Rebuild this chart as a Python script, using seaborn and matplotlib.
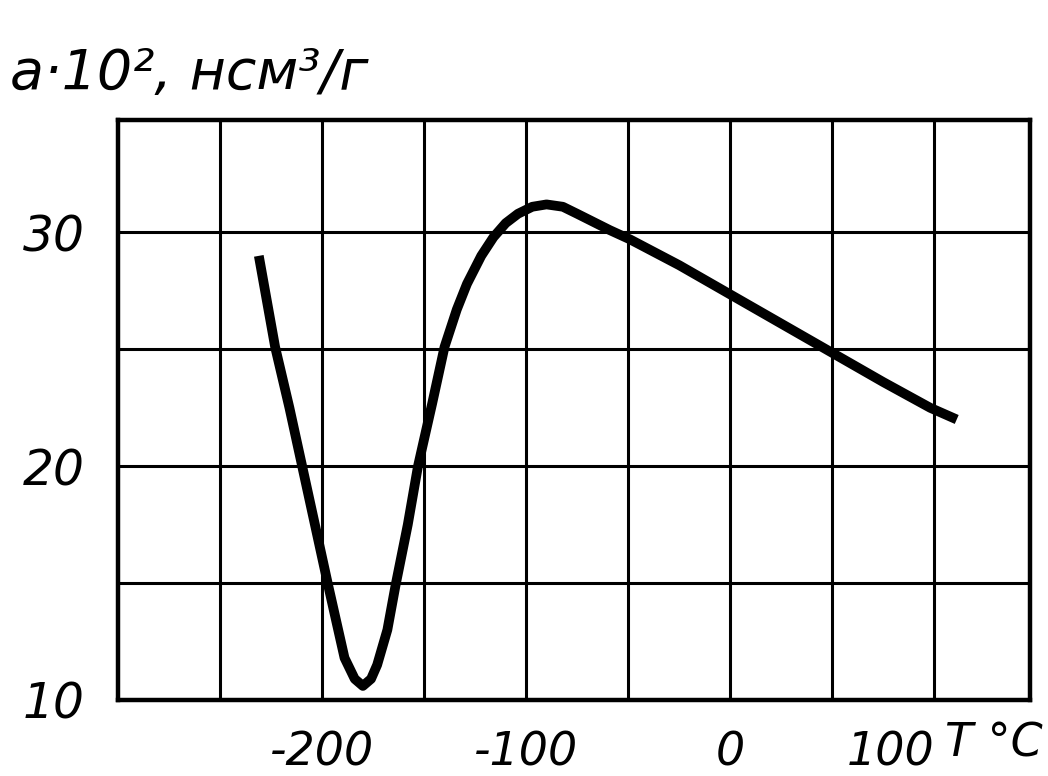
import matplotlib
matplotlib.use("Agg")
import matplotlib.pyplot as plt
import pandas as pd
import seaborn as sns

# values (T in °C, a·10^2 in нсм³/г)
temp = [-231, -223, -216, -210, -203, -197, -189, -184, -180, -176, -173, -168,
        -164, -158, -153, -146, -140, -134, -129, -122, -116, -110, -104, -97,
        -90, -82, -75, -59, -49, -25, -3, 25, 49, 75, 98, 111]
sorption = [29.0, 25.1, 22.5, 20.1, 17.3, 14.9, 11.8, 10.9, 10.6, 10.9, 11.5, 13.0,
            14.9, 17.5, 20.0, 22.7, 25.1, 26.7, 27.8, 29.0, 29.8, 30.4, 30.8, 31.1,
            31.2, 31.1, 30.8, 30.1, 29.7, 28.6, 27.5, 26.1, 24.9, 23.6, 22.5, 22.0]
x_ticks = [-200, -100, 0, 100]
y_ticks = [10, 20, 30]
x_grid = [-250, -200, -150, -100, -50, 0, 50, 100]
y_grid = [15, 20, 25, 30]

df = pd.DataFrame({"T": temp, "a": sorption})

sns.set_style("white")
plt.rcParams["font.family"] = ["DejaVu Sans"]

fig = plt.figure(figsize=(10.48, 7.76), dpi=100)
ax = fig.add_axes([0.1126, 0.098, 0.8704, 0.747])

for gx in x_grid:
    ax.axvline(gx, color="black", lw=2.2, zorder=1)
for gy in y_grid:
    ax.axhline(gy, color="black", lw=2.2, zorder=1)

sns.lineplot(data=df, x="T", y="a", color="black", lw=7, sort=False,
             solid_capstyle="butt", ax=ax, zorder=3)

ax.set_xlim(-300, 147)
ax.set_ylim(10, 34.8)
ax.set_xticks(x_ticks)
ax.set_yticks(y_ticks)
ax.set_xticklabels(["-200", "-100", "0", "100"])
ax.set_yticklabels(["10", "20", "30"])
ax.tick_params(axis="x", length=0, labelsize=33, pad=22, labelcolor="black")
ax.tick_params(axis="y", length=0, labelsize=35, pad=24, labelcolor="black")
for lab in ax.get_xticklabels() + ax.get_yticklabels():
    lab.set_fontstyle("italic")
ax.get_xticklabels()[-1].set_horizontalalignment("right")
ax.set_xlabel("")
ax.set_ylabel("")
for sp in ax.spines.values():
    sp.set_visible(True)
    sp.set_color("black")
    sp.set_linewidth(3.2)

fig.text(0.010, 0.905, "a·10², нсм³/г", fontsize=40, style="italic",
         ha="left", va="center", color="black")
fig.text(0.995, 0.012, "T °C", fontsize=33, style="italic",
         ha="right", va="bottom", color="black")

fig.savefig("out.png", dpi=100, facecolor="white")
